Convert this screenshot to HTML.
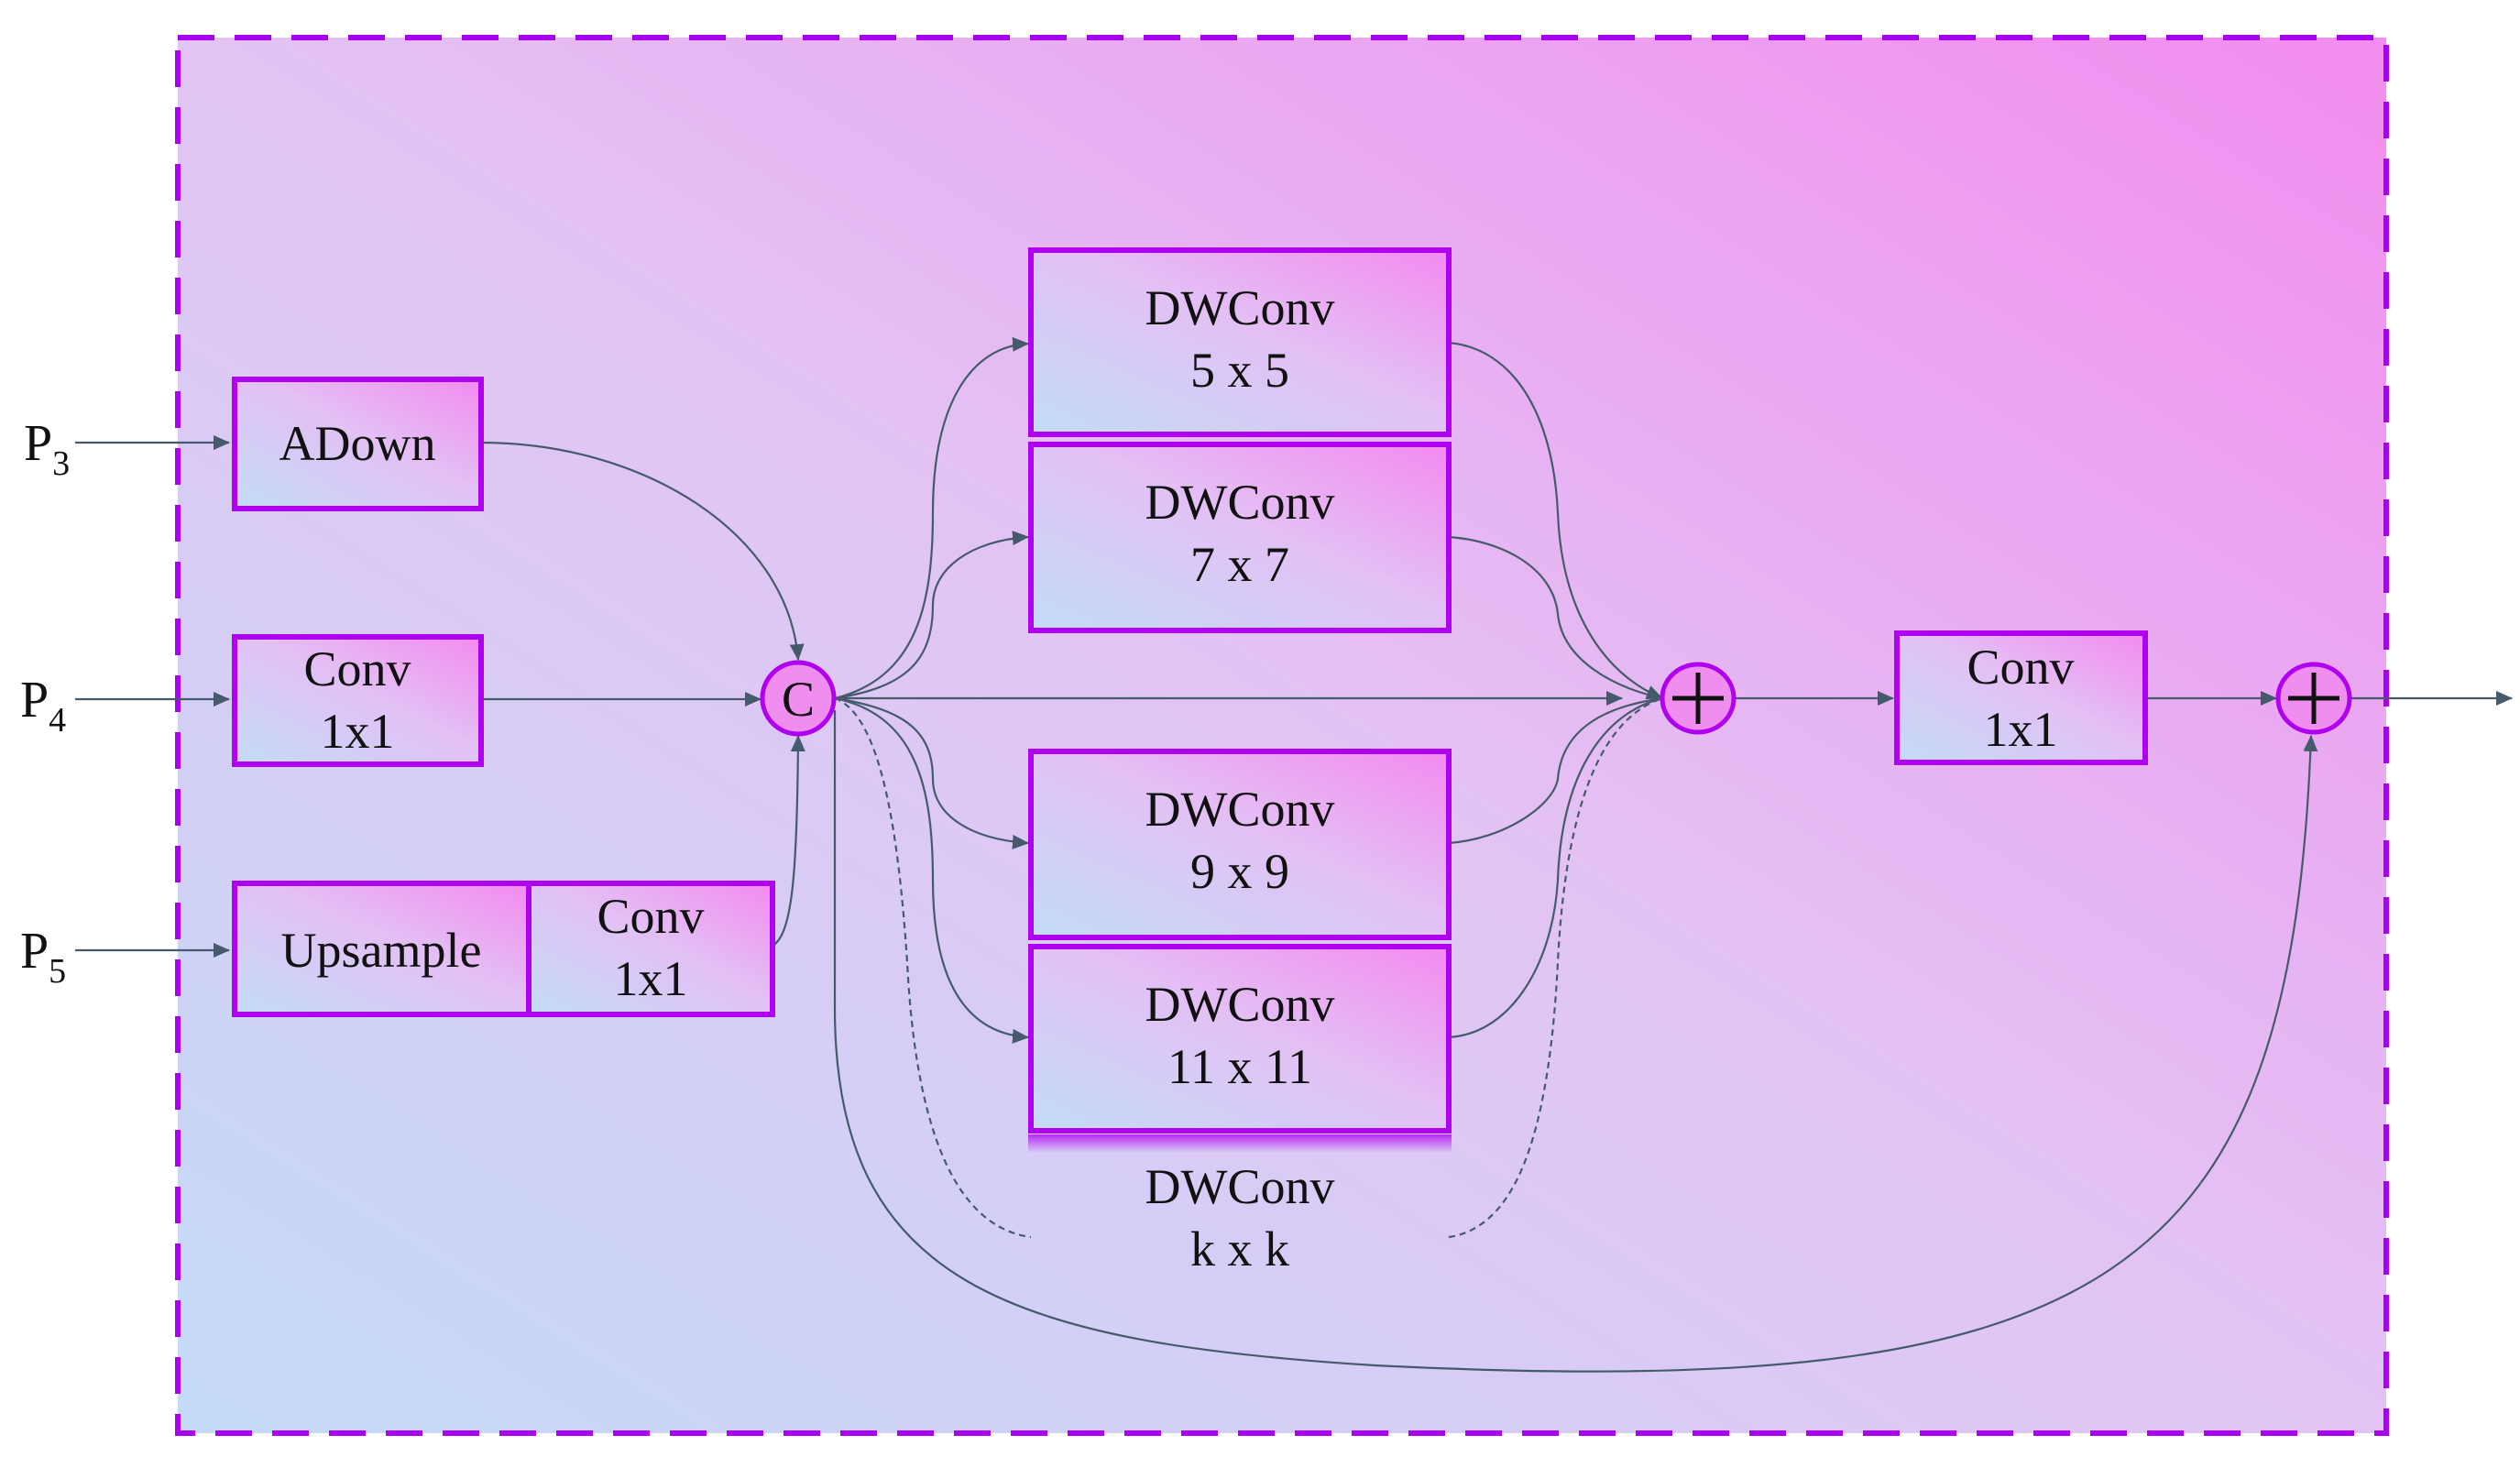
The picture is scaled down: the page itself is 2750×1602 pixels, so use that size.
<!DOCTYPE html>
<html><head><meta charset="utf-8"><style>
html,body{margin:0;padding:0;background:#fff;}
svg{display:block;}
text{font-family:"Liberation Serif",serif;fill:#111;}
</style></head><body>
<svg width="2750" height="1602" viewBox="0 0 2750 1602" xmlns="http://www.w3.org/2000/svg">
<defs>
<linearGradient id="bg" x1="0" y1="1" x2="1" y2="0">
<stop offset="0" stop-color="#c4dbf8"/><stop offset="0.5" stop-color="#e2c4f4"/><stop offset="1" stop-color="#f38cf0"/>
</linearGradient>
<linearGradient id="bx" x1="0" y1="1" x2="1" y2="0">
<stop offset="0" stop-color="#c2dcf8"/><stop offset="0.55" stop-color="#e3c0f4"/><stop offset="1" stop-color="#f48af0"/>
</linearGradient>
<linearGradient id="fade" x1="0" y1="0" x2="0" y2="1">
<stop offset="0" stop-color="#b000f0" stop-opacity="0.8"/><stop offset="1" stop-color="#b000f0" stop-opacity="0"/>
</linearGradient>
<marker id="a" markerWidth="10" markerHeight="10" refX="9" refY="5" orient="auto" markerUnits="userSpaceOnUse" viewBox="0 0 10 10">
<path d="M0,0 L10,5 L0,10 z" fill="#455a6b"/>
</marker>
<marker id="A" markerWidth="18" markerHeight="16" refX="17" refY="8" orient="auto" markerUnits="userSpaceOnUse" viewBox="0 0 18 16">
<path d="M0,0 L18,8 L0,16 z" fill="#455a6b"/>
</marker>
</defs>
<rect x="194" y="41" width="2410" height="1523" fill="url(#bg)"/>
<rect x="194" y="41" width="2410" height="1523" fill="none" stroke="#a800f0" stroke-width="6" stroke-dasharray="40,22"/>

<g fill="none" stroke="#455a6b" stroke-width="2.2">
<path d="M82,483 L250,483" marker-end="url(#A)"/>
<path d="M82,763 L250,763" marker-end="url(#A)"/>
<path d="M82,1037 L250,1037" marker-end="url(#A)"/>
<path d="M525,483 C700,483 860,580 871,720" marker-end="url(#A)"/>
<path d="M525,763 L830,763" marker-end="url(#A)"/>
<path d="M843,1032 C865,1020 870,950 871,803" marker-end="url(#A)"/>
<path d="M911,762 C1000,740 1018,660 1018,560 C1018,440 1060,378 1122,375" marker-end="url(#A)"/>
<path d="M911,762 C990,750 1018,720 1018,660 C1018,620 1060,590 1122,586" marker-end="url(#A)"/>
<path d="M911,762 L1770,762" marker-end="url(#A)"/>
<path d="M911,762 C990,774 1018,800 1018,850 C1018,890 1060,916 1122,920" marker-end="url(#A)"/>
<path d="M911,762 C1000,780 1018,860 1018,960 C1018,1080 1060,1128 1122,1132" marker-end="url(#A)"/>
<path d="M911,762 C960,780 980,900 990,1050 C1000,1250 1050,1340 1125,1350" stroke-dasharray="7,5"/>
<path d="M1581,374 C1650,380 1695,450 1700,560 C1705,680 1760,740 1814,762" marker-end="url(#A)"/>
<path d="M1581,586 C1640,590 1695,620 1700,670 C1705,720 1760,750 1814,762"/>
<path d="M1581,920 C1640,916 1695,880 1700,850 C1705,790 1760,770 1814,762"/>
<path d="M1581,1132 C1650,1128 1695,1050 1700,960 C1705,830 1760,775 1814,762"/>
<path d="M1581,1350 C1650,1340 1690,1250 1700,1050 C1710,850 1760,780 1814,762" stroke-dasharray="7,5"/>
<path d="M1892,762 L2066,762" marker-end="url(#A)"/>
<path d="M2341,762 L2484,762" marker-end="url(#A)"/>
<path d="M2564,762 L2741,762" marker-end="url(#A)"/>
<path d="M911,775 L911,1100 C911,1400 1100,1465 1500,1490 C2300,1530 2500,1400 2522,803" marker-end="url(#A)"/>
</g>

<g stroke="#b000f0" stroke-width="6" fill="url(#bx)">
<rect x="256" y="414" width="269" height="141"/>
<rect x="256" y="695" width="269" height="139"/>
<rect x="256" y="964" width="321" height="143"/>
<rect x="577" y="964" width="266" height="143"/>
<rect x="1125" y="273" width="456" height="201"/>
<rect x="1125" y="485" width="456" height="203"/>
<rect x="1125" y="820" width="456" height="203"/>
<rect x="1125" y="1033" width="456" height="201"/>
<rect x="2070" y="691" width="271" height="141"/>
</g>
<rect x="1122" y="1238" width="462" height="20" fill="url(#fade)"/>

<circle cx="871" cy="762" r="39" fill="#f08ef0" stroke="#b000f0" stroke-width="5"/>
<ellipse cx="1853" cy="762" rx="39" ry="37" fill="#f08ef0" stroke="#b000f0" stroke-width="5"/>
<ellipse cx="2525" cy="762" rx="39" ry="37" fill="#f08ef0" stroke="#b000f0" stroke-width="5"/>
<g stroke="#111" stroke-width="5"><path d="M1825,762 L1881,762 M1853,734 L1853,790"/><path d="M2497,762 L2553,762 M2525,734 L2525,790"/></g>

<g font-size="54" text-anchor="middle">
<text x="871" y="781">C</text>
<text x="390" y="502">ADown</text>
<text x="390" y="748">Conv</text><text x="390" y="816">1x1</text>
<text x="416" y="1055">Upsample</text>
<text x="710" y="1018">Conv</text><text x="710" y="1086">1x1</text>
<text x="1353" y="354">DWConv</text><text x="1353" y="422">5 x 5</text>
<text x="1353" y="566">DWConv</text><text x="1353" y="634">7 x 7</text>
<text x="1353" y="901">DWConv</text><text x="1353" y="969">9 x 9</text>
<text x="1353" y="1114">DWConv</text><text x="1353" y="1182">11 x 11</text>
<text x="1353" y="1313">DWConv</text><text x="1353" y="1381">k x k</text>
<text x="2205" y="746">Conv</text><text x="2205" y="814">1x1</text>
</g>
<g font-size="56">
<text x="26" y="502">P<tspan font-size="38" dy="16">3</tspan></text>
<text x="22" y="782">P<tspan font-size="38" dy="16">4</tspan></text>
<text x="22" y="1056">P<tspan font-size="38" dy="16">5</tspan></text>
</g>
</svg>
</body></html>
